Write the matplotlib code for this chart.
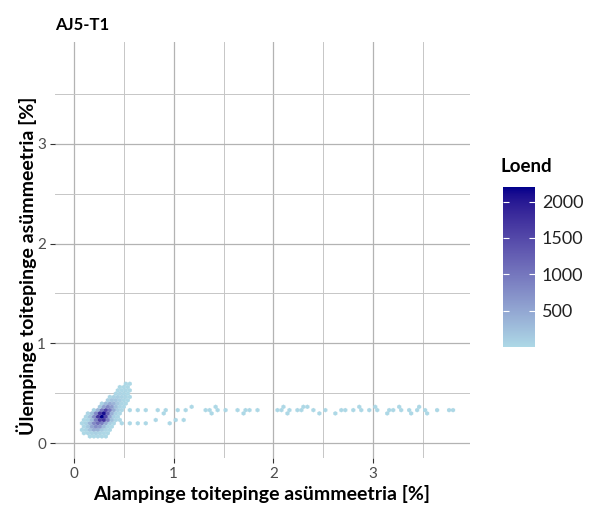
import numpy as np
import matplotlib.pyplot as plt
from matplotlib.colors import LinearSegmentedColormap, Normalize

plt.rcParams['font.family'] = ['Lato', 'DejaVu Sans']

# hexagon lattice: cell width in x and row pair height in y
bin_w = 0.04
bin_h = 0.066

# dense cluster, one entry per hexagon row (row centre y, first cell x, counts left to right)
row_y = [0.066, 0.099, 0.132, 0.165, 0.198, 0.231, 0.264, 0.297, 0.330,
         0.363, 0.396, 0.429, 0.462, 0.495, 0.528, 0.561, 0.594]
row_x0 = [0.14, 0.10, 0.08, 0.10, 0.08, 0.10, 0.12, 0.14, 0.20,
          0.26, 0.28, 0.34, 0.36, 0.42, 0.44, 0.46, 0.52]
row_counts = [
    [3, 8, 10, 6, 2],
    [4, 20, 60, 80, 50, 15, 3],
    [5, 40, 200, 420, 380, 150, 30, 5],
    [20, 150, 500, 750, 650, 300, 60, 8],
    [6, 60, 350, 800, 1100, 900, 450, 100, 10],
    [3, 40, 300, 900, 1600, 1700, 900, 250, 40, 5],
    [15, 200, 750, 1700, 2200, 1500, 500, 90, 10],
    [30, 250, 800, 1700, 2100, 1200, 400, 80, 10],
    [60, 350, 1000, 1500, 1000, 450, 120, 20],
    [150, 550, 800, 600, 250, 60, 10],
    [60, 300, 450, 350, 150, 35, 6],
    [100, 200, 180, 90, 25, 5],
    [20, 70, 90, 60, 20, 4],
    [20, 35, 25, 8],
    [8, 15, 12, 4],
    [4, 6, 3],
    [2, 2],
]

# sparse tail towards large lower-voltage asymmetry
tail_x = [0.48, 0.56, 0.64, 0.72, 0.84, 0.92, 1.04, 1.12, 1.32, 1.36, 1.44, 1.52,
          1.64, 1.72, 1.76, 1.84, 2.04, 2.08, 2.16, 2.24, 2.28, 2.40, 2.52, 2.68,
          2.72, 2.80, 2.88, 2.96, 3.04, 3.16, 3.20, 3.28, 3.36, 3.44, 3.52, 3.64,
          3.76, 3.80,
          1.18, 1.42, 2.10, 2.30, 2.34, 2.86, 3.02, 3.26, 3.46,
          0.90, 1.38, 1.70, 2.14, 2.46, 2.62, 3.14, 3.38, 3.54,
          0.48, 0.56, 0.64, 0.72, 0.96,
          0.82, 1.02, 1.10]
tail_y = [0.330] * 38 + [0.363] * 9 + [0.297] * 9 + [0.198] * 5 + [0.231] * 3
tail_n = [6, 5, 4, 4, 3, 3, 2, 2, 2, 3, 2, 2,
          2, 3, 2, 2, 3, 2, 2, 3, 2, 2, 2, 3,
          2, 2, 2, 1, 2, 2, 1, 2, 2, 2, 1, 1,
          2, 1,
          1, 1, 1, 2, 1, 1, 1, 1, 1,
          1, 1, 1, 1, 1, 1, 1, 1, 1,
          4, 3, 3, 2, 1,
          2, 1, 1]

cell_x, cell_y, cell_n = [], [], []
for y, x0, counts in zip(row_y, row_x0, row_counts):
    for k, n in enumerate(counts):
        cell_x.append(x0 + k * bin_w)
        cell_y.append(y)
        cell_n.append(n)
cell_x += tail_x
cell_y += tail_y
cell_n += tail_n


# lightblue -> darkblue, interpolated in Lab space
M = np.array([[0.4124, 0.3576, 0.1805],
              [0.2126, 0.7152, 0.0722],
              [0.0193, 0.1192, 0.9505]])
WHITE = np.array([0.95047, 1.0, 1.08883])


def to_lab(rgb):
    c = np.asarray(rgb, float)
    c = np.where(c > 0.04045, ((c + 0.055) / 1.055) ** 2.4, c / 12.92)
    xyz = M @ c / WHITE
    f = np.where(xyz > 0.008856, np.cbrt(xyz), 7.787 * xyz + 16 / 116)
    return np.array([116 * f[1] - 16, 500 * (f[0] - f[1]), 200 * (f[1] - f[2])])


def from_lab(lab):
    fy = (lab[0] + 16) / 116
    f = np.array([fy + lab[1] / 500, fy, fy - lab[2] / 200])
    xyz = np.where(f > 0.2069, f ** 3, (f - 16 / 116) / 7.787) * WHITE
    c = np.linalg.solve(M, xyz)
    c = np.where(c > 0.0031308, 1.055 * np.clip(c, 0, None) ** (1 / 2.4) - 0.055, 12.92 * c)
    return np.clip(c, 0, 1)


lo = to_lab([173 / 255, 216 / 255, 230 / 255])
hi = to_lab([0, 0, 139 / 255])
cmap = LinearSegmentedColormap.from_list(
    'loend', [from_lab(lo + t * (hi - lo)) for t in np.linspace(0, 1, 64)])

fig = plt.figure(figsize=(5.92, 5.14), dpi=100)
ax = fig.add_axes([55 / 592, 56 / 514, 415 / 592, 416 / 514])

hb = ax.hexbin(cell_x, cell_y, C=cell_n, reduce_C_function=np.sum,
               gridsize=(100, 60), extent=(0, 100 * bin_w, 0, 60 * bin_h),
               mincnt=1, cmap=cmap, norm=Normalize(vmin=1, vmax=max(cell_n)),
               edgecolors='face', linewidths=0.1, zorder=3)

ax.set_xlim(-0.19, 3.97)
ax.set_ylim(-0.15, 4.02)
ax.set_xticks([0, 1, 2, 3])
ax.set_yticks([0, 1, 2, 3])
ax.set_xticks([0.5, 1.5, 2.5, 3.5], minor=True)
ax.set_yticks([0.5, 1.5, 2.5, 3.5], minor=True)
ax.grid(which='major', color='#b3b3b3', lw=0.9)
ax.grid(which='minor', color='#c6c6c6', lw=0.7)
ax.set_axisbelow(True)
for s in ax.spines.values():
    s.set_visible(False)
ax.tick_params(which='major', length=3.5, width=0.8, color='#333333',
               labelsize=11, labelcolor='#4d4d4d', pad=3)
ax.tick_params(which='minor', length=0)

fig.text(262 / 592, 1 - 494 / 514, 'Alampinge toitepinge asümmeetria [%]',
         ha='center', va='center', fontsize=14, fontweight='bold')
fig.text(27 / 592, 1 - 266 / 514, 'Ülempinge toitepinge asümmeetria [%]',
         ha='center', va='center', rotation=90, fontsize=14, fontweight='bold')
fig.text(55 / 592, 1 - 25 / 514, 'AJ5-T1', ha='left', va='center',
         fontsize=12, fontweight='bold')

# colour legend
cax = fig.add_axes([503 / 592, 1 - 347 / 514, 32 / 592, 160 / 514])
cb = fig.colorbar(hb, cax=cax, ticks=[500, 1000, 1500, 2000])
cb.outline.set_visible(False)
cax.tick_params(which='both', direction='in', color='white', length=4.5, width=0.8,
                left=True, right=True, labelsize=13, labelcolor='#222222', pad=5)
cax.minorticks_off()
fig.text(500 / 592, 1 - 167 / 514, 'Loend', ha='left', va='center',
         fontsize=13.5, fontweight='bold')

fig.savefig('out.png', dpi=100)
